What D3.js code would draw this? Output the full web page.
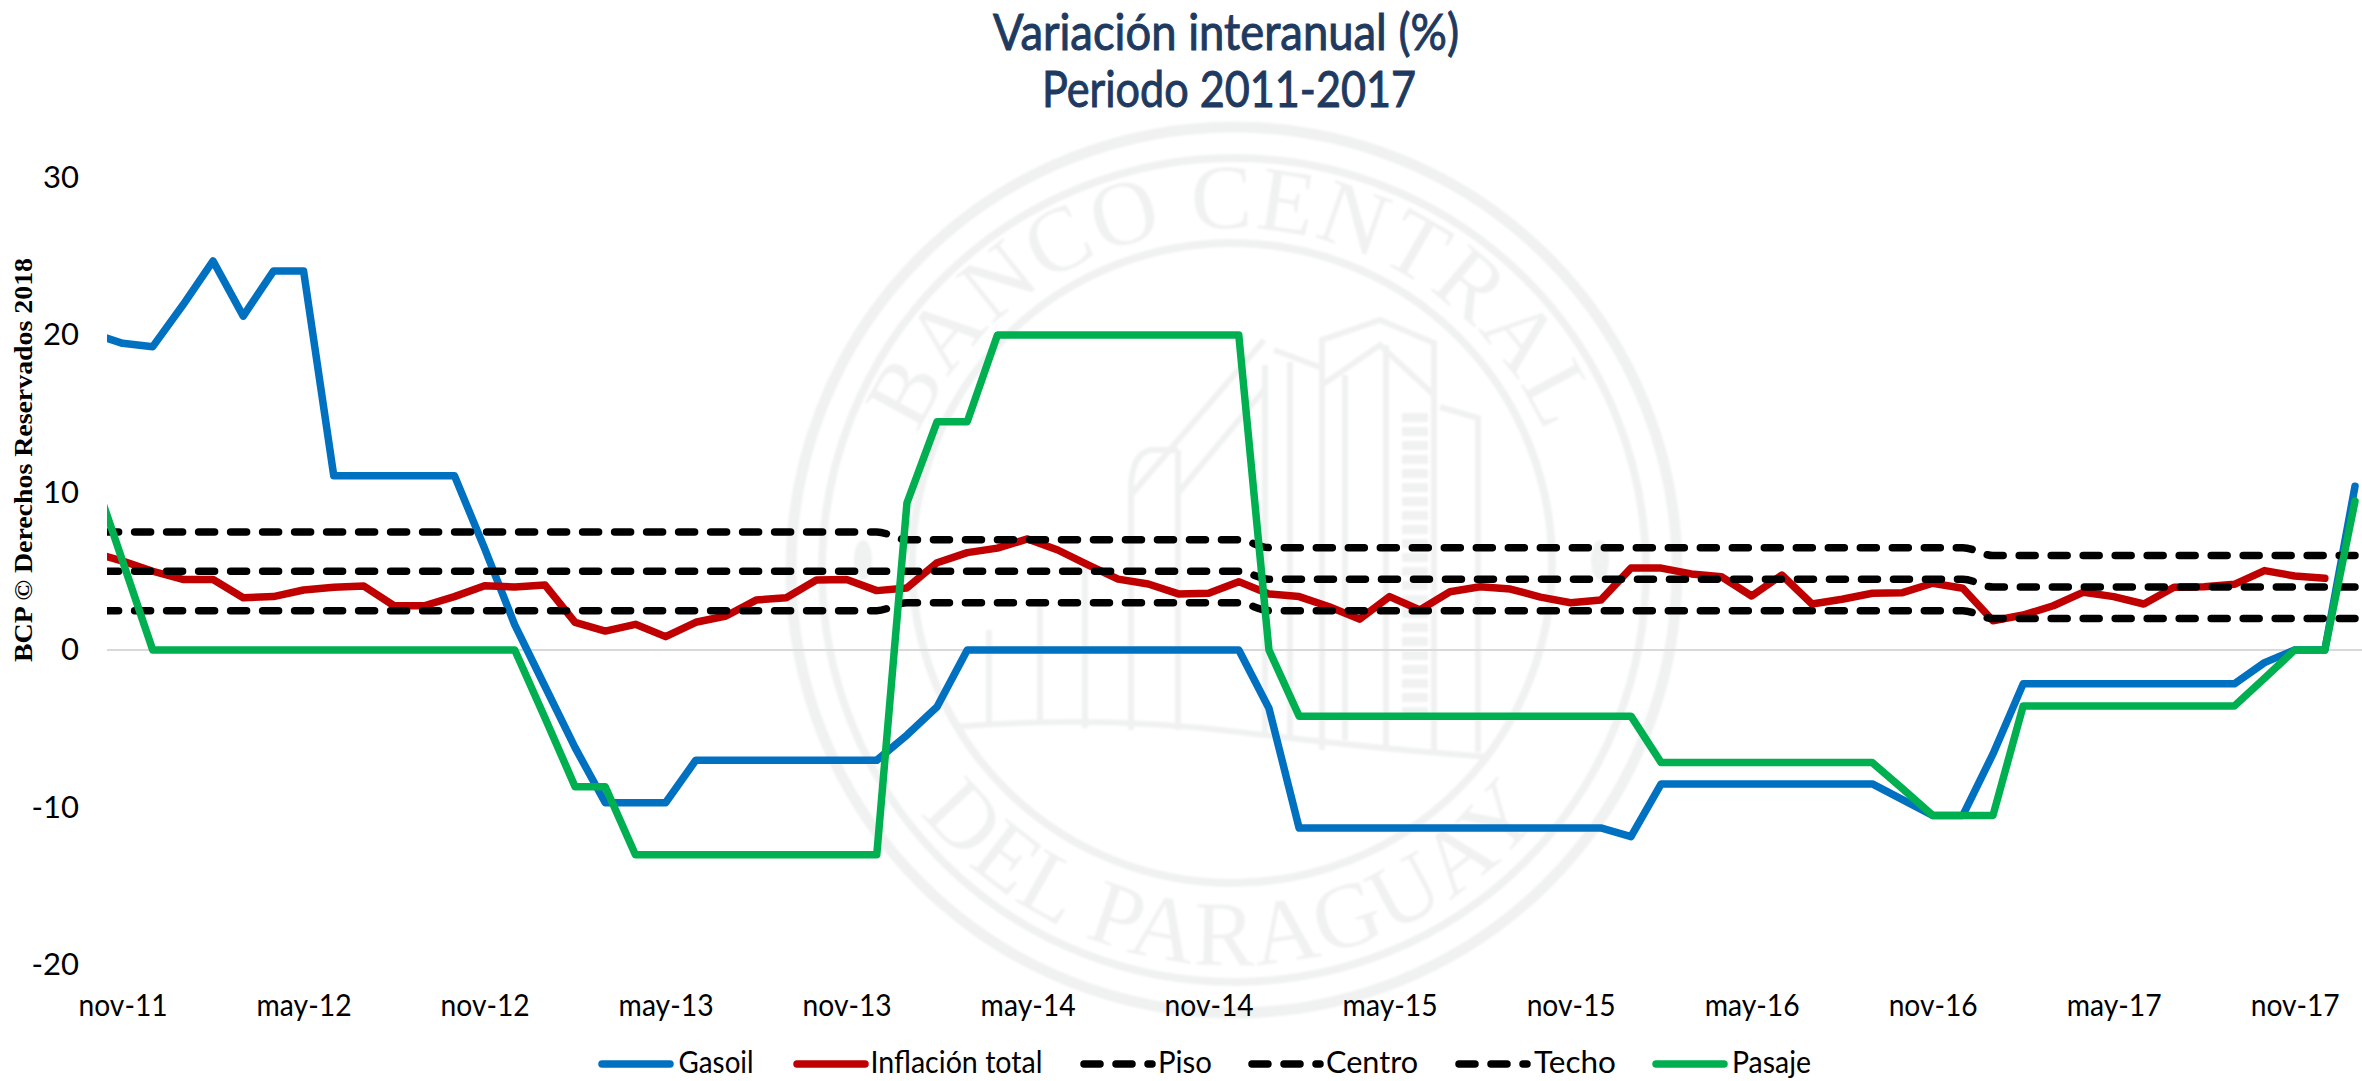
<!DOCTYPE html>
<html lang="es">
<head>
<meta charset="utf-8">
<script src="https://cdn.jsdelivr.net/npm/d3@7"></script>
<style>
html,body{margin:0;padding:0;background:#fff;overflow:hidden}
svg{display:block}
text{font-family:Lato,"Noto Sans",sans-serif}
</style>
</head>
<body>
<svg id="chart" width="2362" height="1081"></svg>
<script>
const months = [
 "oct-11","nov-11","dic-11","ene-12","feb-12","mar-12","abr-12","may-12","jun-12","jul-12","ago-12","sep-12","oct-12","nov-12",
 "dic-12","ene-13","feb-13","mar-13","abr-13","may-13","jun-13","jul-13","ago-13","sep-13","oct-13","nov-13",
 "dic-13","ene-14","feb-14","mar-14","abr-14","may-14","jun-14","jul-14","ago-14","sep-14","oct-14","nov-14",
 "dic-14","ene-15","feb-15","mar-15","abr-15","may-15","jun-15","jul-15","ago-15","sep-15","oct-15","nov-15",
 "dic-15","ene-16","feb-16","mar-16","abr-16","may-16","jun-16","jul-16","ago-16","sep-16","oct-16","nov-16",
 "dic-16","ene-17","feb-17","mar-17","abr-17","may-17","jun-17","jul-17","ago-17","sep-17","oct-17","nov-17",
 "dic-17","ene-18"];
const xTicks = ["nov-11","may-12","nov-12","may-13","nov-13","may-14","nov-14","may-15","nov-15","may-16","nov-16","may-17","nov-17"];
const yTicks = [-20,-10,0,10,20,30];

const gasoil = [20.1,19.47,19.26,21.9,24.7,21.2,24.06,24.06,11.07,11.07,11.07,11.07,11.07,6.45,1.6,-2.3,-6.2,-9.7,-9.7,-9.7,
 -7,-7,-7,-7,-7,-7,-7,-5.4,-3.6,0,0,0,0,0,0,0,0,0,0,-3.7,
 -11.3,-11.3,-11.3,-11.3,-11.3,-11.3,-11.3,-11.3,-11.3,-11.3,-11.3,-11.85,-8.5,-8.5,-8.5,-8.5,-8.5,-8.5,-8.5,-8.5,
 -9.5,-10.5,-10.5,-6.6,-2.15,-2.15,-2.15,-2.15,-2.15,-2.15,-2.15,-2.15,-0.8,0,0,10.4];
const inflacion = [6.18,5.65,5.0,4.48,4.48,3.32,3.39,3.81,3.98,4.06,2.81,2.81,3.39,4.08,4.0,4.13,1.76,1.2,1.63,0.85,
 1.76,2.16,3.17,3.32,4.44,4.48,3.77,3.94,5.54,6.18,6.47,7.05,6.35,5.4,4.5,4.19,3.56,3.6,4.34,3.56,
 3.39,2.75,1.96,3.39,2.54,3.7,4.02,3.87,3.36,3.0,3.17,5.2,5.2,4.83,4.65,3.43,4.76,2.92,3.22,3.6,
 3.64,4.24,3.92,1.86,2.22,2.81,3.67,3.39,2.92,3.98,4.02,4.17,5.04,4.7,4.55,null];
const piso = [2.5,2.5,2.5,2.5,2.5,2.5,2.5,2.5,2.5,2.5,2.5,2.5,2.5,2.5,2.5,2.5,2.5,2.5,2.5,2.5,2.5,2.5,2.5,2.5,2.5,2.5,2.5,
 3,3,3,3,3,3,3,3,3,3,3,3,
 2.5,2.5,2.5,2.5,2.5,2.5,2.5,2.5,2.5,2.5,2.5,2.5,2.5,2.5,2.5,2.5,2.5,2.5,2.5,2.5,2.5,2.5,2.5,2.5,
 2,2,2,2,2,2,2,2,2,2,2,2,2];
const centro = [5,5,5,5,5,5,5,5,5,5,5,5,5,5,5,5,5,5,5,5,5,5,5,5,5,5,5,
 5,5,5,5,5,5,5,5,5,5,5,5,
 4.5,4.5,4.5,4.5,4.5,4.5,4.5,4.5,4.5,4.5,4.5,4.5,4.5,4.5,4.5,4.5,4.5,4.5,4.5,4.5,4.5,4.5,4.5,4.5,
 4,4,4,4,4,4,4,4,4,4,4,4,4];
const techo = [7.5,7.5,7.5,7.5,7.5,7.5,7.5,7.5,7.5,7.5,7.5,7.5,7.5,7.5,7.5,7.5,7.5,7.5,7.5,7.5,7.5,7.5,7.5,7.5,7.5,7.5,7.5,
 7,7,7,7,7,7,7,7,7,7,7,7,
 6.5,6.5,6.5,6.5,6.5,6.5,6.5,6.5,6.5,6.5,6.5,6.5,6.5,6.5,6.5,6.5,6.5,6.5,6.5,6.5,6.5,6.5,6.5,6.5,
 6,6,6,6,6,6,6,6,6,6,6,6,6];
const pasaje = [11.3,5.65,0,0,0,0,0,0,0,0,0,0,0,0,0,-4.3,-8.68,-8.68,-13,-13,
 -13,-13,-13,-13,-13,-13,-13,9.33,14.5,14.5,20,20,20,20,20,20,20,20,20,0,
 -4.2,-4.2,-4.2,-4.2,-4.2,-4.2,-4.2,-4.2,-4.2,-4.2,-4.2,-4.2,-7.15,-7.15,-7.15,-7.15,-7.15,-7.15,-7.15,-7.15,
 -8.8,-10.5,-10.5,-10.5,-3.55,-3.55,-3.55,-3.55,-3.55,-3.55,-3.55,-3.55,-1.8,0,0,9.45];

const seriesNames = ["Gasoil","Inflación total","Piso","Centro","Techo","Pasaje"];
const seriesValues = [gasoil,inflacion,piso,centro,techo,pasaje];
const seriesColors = ["#0070C0","#C00000","#000000","#000000","#000000","#00B050"];
const titleLines = ["Variación interanual (%)","Periodo 2011-2017"];

const svg = d3.select("#chart");
const x = d3.scalePoint().domain(months).range([92.4,2355]);
const y = d3.scaleLinear().domain([-20,30]).range([965,177.5]);

// ---------- watermark ----------
const WM = "#F0F2F1";
const defs = svg.append("defs");
defs.append("filter").attr("id","soft").append("feGaussianBlur").attr("stdDeviation",1);
const wmRoot = svg.append("g").attr("filter","url(#soft)");
const wm = wmRoot.append("g").attr("fill","none").attr("stroke",WM);
[[443,11],[412,8]].forEach(([r,w]) => wm.append("circle").attr("cx",1234).attr("cy",570).attr("r",r).attr("stroke-width",w));
wm.append("circle").attr("cx",1232).attr("cy",563).attr("r",320).attr("stroke-width",8);
defs.append("path").attr("id","arcTop").attr("d","M 890 570 A 342 342 0 0 1 1574 570");
defs.append("path").attr("id","arcBot").attr("d","M 837 570 A 395 395 0 0 0 1627 570");
const wmt = wmRoot.append("g").attr("fill",WM).style("font-family","'Liberation Serif',serif");
wmt.append("text").attr("font-size",92).attr("text-anchor","middle").attr("letter-spacing",2)
  .style("font-family","'Liberation Serif',serif")
  .append("textPath").attr("href","#arcTop").attr("startOffset","50%").text("BANCO CENTRAL");
wmt.append("text").attr("font-size",92).attr("text-anchor","middle").attr("letter-spacing",2)
  .style("font-family","'Liberation Serif',serif")
  .append("textPath").attr("href","#arcBot").attr("startOffset","50%").text("DEL PARAGUAY");
wm.append("g").attr("stroke-width",6).selectAll("path").data([
 "M1322 750V340L1380 320L1434 343V750",
 "M1322 385L1380 345L1434 395",
 "M1386 345V745",
 "M1345 375V740",
 "M1265 365V735",
 "M1274 350L1322 368",
 "M1290 362V735",
 "M1440 407L1478 418V752",
 "M1178 450H1150Q1131 455 1131 490V730",
 "M1178 450V730",
 "M1178 493L1264 390",
 "M1131 495L1264 340",
 "M989 630V725","M1040 600V725","M1085 560V728",
 "M954 727Q1100 715 1239 732T1490 757"
]).join("path").attr("d",d=>d);
wm.append("path").attr("d","M1415 413V720").attr("stroke-width",26).attr("stroke-dasharray","9 5");
[[863,560],[1600,560]].forEach(([cx,cy]) => wmt.append("ellipse").attr("cx",cx).attr("cy",cy).attr("rx",9).attr("ry",20));

// ---------- clip ----------
defs.append("clipPath").attr("id","plot").append("rect").attr("x",107).attr("y",100).attr("width",2255).attr("height",900);

// ---------- zero line ----------
svg.append("line").attr("x1",107).attr("x2",2362).attr("y1",y(0)).attr("y2",y(0)).attr("stroke","#D9D9D9").attr("stroke-width",2);

// ---------- series ----------
const plot = svg.append("g").attr("clip-path","url(#plot)");
seriesValues.forEach((vals,k) => {
  const dashed = seriesColors[k] === "#000000";
  const line = d3.line().defined(d=>d!==null).x((d,i)=>x(months[i])).y(d=>y(d))
    .curve(dashed ? d3.curveMonotoneX : d3.curveLinear);
  const p = plot.append("path").attr("d",line(vals)).attr("fill","none")
    .attr("stroke",seriesColors[k]).attr("stroke-width",7.5)
    .attr("stroke-linejoin","round").attr("stroke-linecap","round");
  if (dashed) p.attr("stroke-dasharray","16 16").attr("stroke-dashoffset",-10.2);
});

// ---------- axes ----------
const axX = svg.append("g").attr("transform","translate(0,965)")
  .call(d3.axisBottom(x).tickValues(xTicks).tickSize(0).tickPadding(29));
axX.select(".domain").remove();
axX.selectAll("text").attr("font-size",31).attr("fill","#000").style("font-family","Lato")
  .each(function(d){ d3.select(this).attr("textLength", d.startsWith("may")?95:89).attr("lengthAdjust","spacingAndGlyphs"); });
const axY = svg.append("g").attr("transform","translate(79,0)")
  .call(d3.axisLeft(y).tickValues(yTicks).tickSize(0).tickPadding(0).tickFormat(d=>String(d)));
axY.select(".domain").remove();
axY.selectAll("text").attr("font-size",31).attr("fill","#000").style("font-family","Lato");

// ---------- title ----------
const titleX = [[993,466,50],[1042,374,107]];
titleLines.forEach((t,i) => svg.append("text").attr("x",titleX[i][0]).attr("y",titleX[i][2])
  .attr("font-size",50).attr("fill","#1F3A60").attr("stroke","#1F3A60").attr("stroke-width",1)
  .attr("textLength",titleX[i][1]).attr("lengthAdjust","spacingAndGlyphs").text(t));

// ---------- side note ----------
svg.append("text").attr("transform","translate(32,662) rotate(-90)")
  .attr("font-size",25).attr("font-weight","bold").style("font-family","'Liberation Serif',serif")
  .attr("textLength",404).attr("lengthAdjust","spacingAndGlyphs").text("BCP © Derechos Reservados 2018");

// ---------- legend ----------
const legendX = [[602,678.6,75],[797,870.5,172],[1084,1158,54],[1252,1326,92],[1459,1534,82],[1656,1732,79]];
seriesNames.forEach((n,k) => {
  const [sx,tx,tw] = legendX[k];
  const l = svg.append("line").attr("x1",sx).attr("x2",sx+68).attr("y1",1064).attr("y2",1064)
    .attr("stroke",seriesColors[k]).attr("stroke-width",7.5).attr("stroke-linecap","round");
  if (seriesColors[k]==="#000000") l.attr("stroke-dasharray","16 16");
  svg.append("text").attr("x",tx).attr("y",1073).attr("font-size",31).attr("fill","#000")
    .attr("textLength",tw).attr("lengthAdjust","spacingAndGlyphs").text(n);
});
</script>
</body>
</html>
